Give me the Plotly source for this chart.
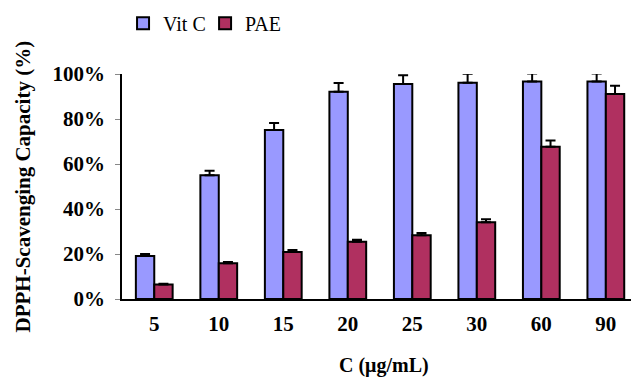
import plotly.graph_objects as go

categories = ["5", "10", "15", "20", "25", "30", "60", "90"]
vitc = [19.1, 55.0, 75.1, 92.1, 95.6, 96.1, 96.7, 96.7]
vitc_err = [0.9, 2.0, 3.1, 3.9, 3.8, 4.0, 3.5, 3.5]
pae = [6.4, 15.9, 20.9, 25.5, 28.3, 34.1, 67.7, 91.1]
pae_err = [0.4, 0.6, 0.9, 0.8, 1.0, 1.3, 2.7, 3.7]
yticks = [0, 20, 40, 60, 80, 100]

FONT = "Liberation Serif"

fig = go.Figure()
fig.add_trace(go.Bar(
    x=categories, y=vitc, name="Vit C", legend="legend",
    marker=dict(color="#9999FF", line=dict(color="black", width=2)),
    error_y=dict(type="data", array=vitc_err, arrayminus=[0]*len(vitc_err),
                 symmetric=False, color="black", thickness=2, width=5),
))
fig.add_trace(go.Bar(
    x=categories, y=pae, name="PAE", legend="legend2",
    marker=dict(color="#B03060", line=dict(color="black", width=2)),
    error_y=dict(type="data", array=pae_err, arrayminus=[0]*len(pae_err),
                 symmetric=False, color="black", thickness=2, width=5),
))

legend_common = dict(orientation="h", y=0.99, yanchor="top", xanchor="left",
                     xref="container", yref="container",
                     font=dict(size=20, family=FONT), itemwidth=30,
                     bgcolor="rgba(0,0,0,0)")

fig.update_layout(
    width=631, height=378,
    margin=dict(l=122, r=0, t=74, b=79),
    paper_bgcolor="white", plot_bgcolor="white",
    barmode="group", bargap=0.43, bargroupgap=0,
    font=dict(family=FONT, color="black"),
    showlegend=True,
    legend=dict(x=0.195, **legend_common),
    legend2=dict(x=0.325, **legend_common),
    xaxis=dict(range=[-0.5, 7.39], showline=True, linecolor="black", linewidth=1.5,
               ticks="", showgrid=False, zeroline=False,
               tickfont=dict(size=21, family=FONT, weight="bold"),
               ticklabelstandoff=5),
    yaxis=dict(range=[0, 100], tickvals=yticks,
               ticktext=[f"{v}%" for v in yticks],
               showline=True, linecolor="black", linewidth=1.5,
               ticks="outside", ticklen=5, tickcolor="#888888",
               showgrid=False, zeroline=False,
               tickfont=dict(size=21, family=FONT, weight="bold"),
               ticklabelstandoff=6),
    annotations=[
        dict(text="DPPH-Scavenging Capacity (%)", xref="paper", yref="paper",
             x=0, y=0.5, xshift=-100, textangle=-90, showarrow=False,
             xanchor="center", yanchor="middle",
             font=dict(size=21, family=FONT, weight="bold")),
        dict(text="C (μg/mL)", xref="paper", yref="paper",
             x=(384 - 122) / (631 - 122), y=0, yshift=-66, showarrow=False,
             xanchor="center", yanchor="middle",
             font=dict(size=20, family=FONT, weight="bold")),
    ],
)

fig.write_html("out.html")
